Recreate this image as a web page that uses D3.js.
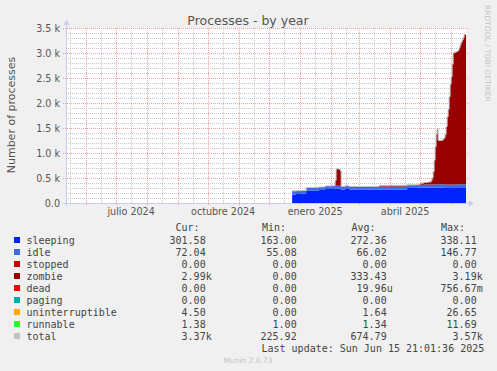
<!DOCTYPE html>
<html><head><meta charset="utf-8">
<script src="https://cdn.jsdelivr.net/npm/d3@7"></script>
<style>body{margin:0;background:#f0f0f0}svg{display:block}</style>
</head><body><svg id="c" width="497" height="371"></svg>
<script>
// ---- data (daily averages) ----
const dates = ["2024-12-24","2024-12-28","2025-01-02","2025-01-07","2025-01-14","2025-01-20","2025-01-26","2025-02-01","2025-02-05","2025-02-06","2025-02-07","2025-02-09","2025-02-10","2025-02-11","2025-02-15","2025-02-19","2025-03-05","2025-03-21","2025-04-06","2025-04-18","2025-04-28","2025-05-01","2025-05-05","2025-05-09","2025-05-12","2025-05-13","2025-05-14","2025-05-15","2025-05-16","2025-05-17","2025-05-18","2025-05-19","2025-05-20","2025-05-22","2025-05-24","2025-05-25","2025-05-26","2025-05-27","2025-05-28","2025-05-29","2025-05-30","2025-05-31","2025-06-01","2025-06-02","2025-06-03","2025-06-04","2025-06-05","2025-06-06","2025-06-07","2025-06-08","2025-06-09","2025-06-10","2025-06-11","2025-06-12","2025-06-13","2025-06-14","2025-06-15T21:01:36Z"];
const sleeping = [172,178,185,250,252,258,278,282,285,285,285,285,285,272,280,270,268,270,272,300,305,305,306,306,307,307,306,306,305,305,305,305,304,304,303,303,302,302,301,301,300,300,300,300,300,300,300,300,300,300,301,301,301,301,301,302,301.58];
const idle = [68,66,62,56,58,60,60,60,60,60,60,60,60,58,62,58,58,58,60,60,60,62,62,62,64,64,66,66,68,68,70,70,70,70,70,70,70,70,70,70,70,70,71,71,71,71,71,72,72,72,72,72,72,72,72,72,72.04];
const stopped = [0,0,0,0,0,0,0,0,0,0,0,0,0,0,0,0,0,0,0,0,0,0,0,0,0,0,0,0,0,0,0,0,0,0,0,0,0,0,0,0,0,0,0,0,0,0,0,0,0,0,0,0,0,0,0,0,0];
const zombie = [0,0,0,0,0,0,0,0,100,330,335,330,300,0,0,0,0,22,18,0,0,30,40,50,80,130,250,480,750,1000,1110,880,870,880,900,930,1000,1150,1350,1500,1750,2000,2150,2400,2620,2640,2640,2650,2660,2680,2730,2790,2840,2880,2930,2990,2990];
const dead = [0,0,0,0,0,0,0,0,0,0,0,0,0,0,0,0,0,0,0,0,0,0,0,0,0,0,0,0,0,0,0,0,0,0,0,0,0,0,0,0,0,0,0,0,0,0,0,0,0,0,0,0,0,0,0,0,0];
const paging = [0,0,0,0,0,0,0,0,0,0,0,0,0,0,0,0,0,0,0,0,0,0,0,0,0,0,0,0,0,0,0,0,0,0,0,0,0,0,0,0,0,0,0,0,0,0,0,0,0,0,0,0,0,0,0,0,0];
const uninterruptible = [1,1,1,2,1,1,2,1,2,2,2,2,2,1,1,1,2,2,2,2,2,2,2,2,2,2,3,3,3,3,3,3,3,3,3,3,3,3,3,3,3,4,4,4,4,4,4,4,4,4,4,4,5,5,5,4.5,4.5];
const runnable = [1.2,1.2,1.3,1.3,1.3,1.3,1.3,1.3,1.4,1.4,1.4,1.4,1.4,1.3,1.3,1.3,1.3,1.3,1.3,1.3,1.3,1.4,1.4,1.4,1.4,1.4,1.4,1.4,1.4,1.4,1.4,1.4,1.4,1.4,1.4,1.4,1.4,1.4,1.4,1.4,1.4,1.4,1.4,1.4,1.4,1.4,1.4,1.4,1.4,1.4,1.4,1.4,1.4,1.4,1.4,1.38,1.38];

const seriesNames = ["sleeping","idle","stopped","zombie","dead","paging","uninterruptible","runnable","total"];
const seriesColors = ["#0022ff","#4169e1","#cc0000","#990000","#ff0000","#00aaaa","#ffa500","#22ff22","#c0c0c0"];
const legendCur = ["301.58 ","72.04 ","0.00 ","2.99k","0.00 ","0.00 ","4.50 ","1.38 ","3.37k"];
const legendMin = ["163.00 ","55.08 ","0.00 ","0.00 ","0.00 ","0.00 ","0.00 ","1.00 ","225.92 "];
const legendAvg = ["272.36 ","66.02 ","0.00 ","333.43 ","19.96u","0.00 ","1.64 ","1.34 ","674.79 "];
const legendMax = ["338.11 ","146.77 ","0.00 ","3.19k","756.67m","0.00 ","26.65 ","11.69 ","3.57k"];
const yTicks = [0,500,1000,1500,2000,2500,3000,3500];
const yTickLabels = ["0.0","0.5 k","1.0 k","1.5 k","2.0 k","2.5 k","3.0 k","3.5 k"];
const monthLabels = ["julio 2024","octubre 2024","enero 2025","abril 2025"];
const monthLabelDates = ["2024-07-16","2024-10-16","2025-01-16","2025-04-16"];

// ---- drawing ----
const svg = d3.select("#c");
const L=66,R=466,T=28,B=203;
const x = d3.scaleUtc().domain([new Date(Date.UTC(2024,4,11,21,1,36)), new Date(Date.UTC(2025,5,15,21,1,36))]).range([L,R]);
const y = d3.scaleLinear().domain([0,3500]).range([B,T]);
const P = s => new Date(s.length===10 ? s+"T00:00:00Z" : s);

svg.append("rect").attr("width",497).attr("height",371).attr("fill","#f0f0f0");
svg.append("rect").attr("x",L).attr("y",T).attr("width",R-L).attr("height",B-T).attr("fill","#ffffff");

const g = svg.append("g");
// minor horizontal grid
d3.range(0,3501,100).filter(v=>v%500!==0).forEach(v=>{
  g.append("line").attr("x1",L).attr("x2",R).attr("y1",y(v)+0.5).attr("y2",y(v)+0.5)
   .attr("stroke","#c8c8c8").attr("stroke-dasharray","1,1");
});
// minor vertical grid (mid-month)
const mids = d3.utcMonth.range(new Date(Date.UTC(2024,4,1)), new Date(Date.UTC(2025,6,1))).map(d=>new Date(Date.UTC(d.getUTCFullYear(),d.getUTCMonth(),16)));
mids.filter(d=>x(d)>L && x(d)<R).forEach(d=>{
  const xx=Math.round(x(d))+0.5;
  g.append("line").attr("x1",xx).attr("x2",xx).attr("y1",T).attr("y2",B).attr("stroke","#c8c8c8").attr("stroke-dasharray","1,1");
});
// major horizontal
yTicks.forEach(v=>{
  g.append("line").attr("x1",L-3).attr("x2",R+2).attr("y1",y(v)+0.5).attr("y2",y(v)+0.5)
   .attr("stroke","#f0a0a0").attr("stroke-dasharray","1,1");
});
// major vertical (month starts)
d3.utcMonth.range(new Date(Date.UTC(2024,4,12)), new Date(Date.UTC(2025,5,15))).forEach(d=>{
  const xx=Math.round(x(d))+0.5;
  g.append("line").attr("x1",xx).attr("x2",xx).attr("y1",T).attr("y2",B+3).attr("stroke","#f0a0a0").attr("stroke-dasharray","1,1");
});

// stacked areas
const keys = seriesNames.slice(0,8);
const cols = {sleeping,idle,stopped,zombie,dead,paging,uninterruptible,runnable};
const rows = dates.map((d,i)=>{const o={date:P(d)}; keys.forEach(k=>o[k]=cols[k][i]); return o;});
const stack = d3.stack().keys(keys)(rows);
const area = d3.area().curve(d3.curveStepAfter).x(d=>x(d.data.date)).y0(d=>y(d[0])).y1(d=>y(d[1]));
svg.append("defs").append("clipPath").attr("id","cp").append("rect").attr("x",L).attr("y",T-2).attr("width",R-L+1).attr("height",B-T+2);
const dg = svg.append("g").attr("clip-path","url(#cp)");
stack.forEach((s,i)=>{
  dg.append("path").datum(s).attr("d",area).attr("fill",seriesColors[i]);
});
const totals = rows.map(r=>({date:r.date, v:d3.sum(keys,k=>r[k])}));
dg.append("path").datum(totals).attr("fill","none").attr("stroke","#c0c0c0").attr("stroke-width",1)
  .attr("d",d3.line().curve(d3.curveStepAfter).x(d=>x(d.date)).y(d=>y(d.v)));

// axes
const ac="#c8ccf4";
svg.append("line").attr("x1",L-3).attr("x2",R+4).attr("y1",B+0.5).attr("y2",B+0.5).attr("stroke",ac);
svg.append("path").attr("d",`M${R+3},${B-2.5} L${R+8},${B+0.5} L${R+3},${B+3.5}Z`).attr("fill",ac);
svg.append("line").attr("x1",L+0.5).attr("x2",L+0.5).attr("y1",B+3).attr("y2",T-4).attr("stroke",ac);
svg.append("path").attr("d",`M${L-2.5},${T-3} L${L+0.5},${T-8} L${L+3.5},${T-3}Z`).attr("fill",ac);

// y tick labels
const fs="DejaVu Sans, sans-serif";
yTicks.forEach((v,i)=>{
  svg.append("text").attr("x",60).attr("y",y(v)+3.5).attr("text-anchor","end")
   .attr("font-family",fs).attr("font-size",9.6).attr("fill","#555").text(yTickLabels[i]);
});
monthLabels.forEach((t,i)=>{
  svg.append("text").attr("x",x(P(monthLabelDates[i]))).attr("y",215).attr("text-anchor","middle")
   .attr("font-family",fs).attr("font-size",9.6).attr("fill","#555").text(t);
});
svg.append("text").attr("x",248).attr("y",25).attr("text-anchor","middle").attr("font-family",fs)
  .attr("font-size",12.5).attr("fill","#555").text("Processes - by year");
svg.append("text").attr("transform","translate(15,115) rotate(-90)").attr("text-anchor","middle")
  .attr("font-family",fs).attr("font-size",11).attr("fill","#555").text("Number of processes");
svg.append("text").attr("transform","translate(485,5) rotate(90)").attr("text-anchor","start")
  .attr("font-family",fs).attr("font-size",7.5).attr("fill","#c4c4c4").text("RRDTOOL / TOBI OETIKER");

// legend
const mono="DejaVu Sans Mono, monospace";
const lc="#444";
const hdr=[["Cur:",187.5],["Min:",274],["Avg:",363.5],["Max:",453]];
hdr.forEach(h=>svg.append("text").attr("x",h[1]).attr("y",231).attr("text-anchor","middle")
  .attr("font-family",mono).attr("font-size",10).attr("fill",lc).text(h[0]));
const colEnds=[211.7,302.7,392.7,482.7];
seriesNames.forEach((n,i)=>{
  const cy=240+i*12;
  svg.append("rect").attr("x",14).attr("y",cy-3).attr("width",6).attr("height",6).attr("fill",seriesColors[i]);
  svg.append("text").attr("x",26.5).attr("y",cy+3.5).attr("font-family",mono).attr("font-size",10).attr("fill",lc).text(n);
  [legendCur,legendMin,legendAvg,legendMax].forEach((arr,j)=>{
    svg.append("text").attr("x",colEnds[j]).attr("y",cy+3.5).attr("text-anchor","end")
      .attr("font-family",mono).attr("font-size",10).attr("fill",lc).style("white-space","pre").text(arr[i]);
  });
});
svg.append("text").attr("x",261.5).attr("y",351.5).attr("font-family",mono).attr("font-size",10).attr("fill",lc)
  .text("Last update: Sun Jun 15 21:01:36 2025");
svg.append("text").attr("x",248).attr("y",363).attr("text-anchor","middle").attr("font-family",fs)
  .attr("font-size",7.5).attr("fill","#c4c4c4").text("Munin 2.0.73");
</script></body></html>
